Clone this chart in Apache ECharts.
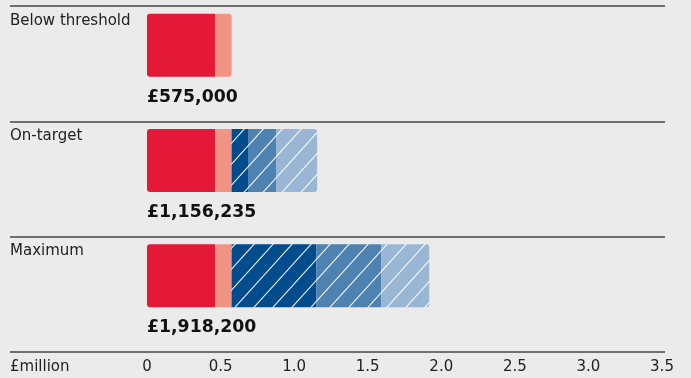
<!DOCTYPE html>
<html>
<head>
<meta charset="utf-8">
<style>
  html, body { margin: 0; padding: 0; background: #ebebeb; }
  #chart { width: 691px; height: 378px; }
</style>
<script src="https://cdn.jsdelivr.net/npm/echarts@6/dist/echarts.min.js"></script>
</head>
<body>
<div id="chart"></div>
<script>
// Remuneration scenarios, £ million
const categories = ['Below threshold', 'On-target', 'Maximum'];
const fixedPay    = [0.463, 0.463, 0.463];
const benefits    = [0.112, 0.112, 0.112];
const annualBonus = [0, 0.1115, 0.576];
const deferred    = [0, 0.1905, 0.440];
const ltip        = [0, 0.279235, 0.3272];
const totals      = [0.575, 1.156235, 1.9182];
const tickValues  = [0, 0.5, 1.0, 1.5, 2.0, 2.5, 3.0, 3.5];
const axisUnit    = '£million';

const FONT = '"DejaVu Sans", sans-serif';

// Diagonal white hatching over a base colour
function hatch(base) {
  const w = 19, h = 21;
  const c = document.createElement('canvas');
  c.width = w; c.height = h;
  const ctx = c.getContext('2d');
  ctx.fillStyle = base;
  ctx.fillRect(0, 0, w, h);
  ctx.strokeStyle = 'rgba(255,255,255,0.95)';
  ctx.lineWidth = 1.1;
  ctx.beginPath();
  for (let k = -1; k <= 1; k++) {
    ctx.moveTo(k * w - w, 2 * h);
    ctx.lineTo(k * w + 2 * w, -h);
  }
  ctx.stroke();
  return { image: c, repeat: 'repeat' };
}

const segments = [
  { name: 'Fixed pay', data: fixedPay, color: '#e31937' },
  { name: 'Benefits', data: benefits, color: '#f19385' },
  { name: 'Annual bonus', data: annualBonus, color: hatch('#004c8c') },
  { name: 'Deferred bonus', data: deferred, color: hatch('#4e82b1') },
  { name: 'LTIP', data: ltip, color: hatch('#99b6d4') }
];

// last non-zero segment per row gets the rounded right end
function lastIndex(row) {
  let last = 0;
  segments.forEach((s, i) => { if (s.data[row] > 0) last = i; });
  return last;
}

function money(v) {
  const n = String(Math.round(v * 1e6));
  return '£' + n.replace(/\B(?=(\d{3})+(?!\d))/g, ',');
}

const R = 3;
const barSeries = segments.map((s, i) => ({
  name: s.name,
  type: 'bar',
  stack: 'pay',
  xAxisIndex: 1,
  yAxisIndex: 1,
  barWidth: 63,
  barGap: '0%',
  silent: true,
  data: s.data.map((v, row) => {
    const left = i === 0 ? R : 0;
    const right = i === lastIndex(row) ? R : 0;
    return {
      value: v,
      itemStyle: { color: s.color, borderRadius: [left, right, right, left] }
    };
  })
}));

const totalSeries = {
  name: 'Total',
  type: 'bar',
  stack: 'total',
  xAxisIndex: 1,
  yAxisIndex: 1,
  barWidth: 37,
  barGap: '0%',
  silent: true,
  itemStyle: { color: 'rgba(0,0,0,0)' },
  label: {
    show: true,
    position: 'insideLeft',
    distance: 0,
    offset: [0, 2],
    color: '#111',
    fontFamily: FONT,
    fontWeight: 'bold',
    fontSize: 17.3,
    formatter: p => money(p.value)
  },
  data: totals
};

const chart = echarts.init(document.getElementById('chart'), null, { renderer: 'canvas' });
chart.setOption({
  backgroundColor: '#ebebeb',
  animation: false,
  textStyle: { fontFamily: FONT },
  grid: [
    { left: 10, right: 26, top: 6, bottom: 26, containLabel: false, outerBoundsMode: 'none' },
    { left: 147, right: 29, top: 6, bottom: 26, containLabel: false, outerBoundsMode: 'none' }
  ],
  xAxis: [
    {
      gridIndex: 0, type: 'value', min: 0, max: 1,
      axisLine: { show: false }, axisTick: { show: false },
      axisLabel: { show: false }, splitLine: { show: false }
    },
    {
      gridIndex: 1, type: 'value', min: 0, max: 3.5, interval: 0.5,
      axisLine: { show: false }, axisTick: { show: false },
      splitLine: { show: false },
      axisLabel: {
        margin: 8, color: '#222', fontSize: 15, fontFamily: FONT,
        customValues: tickValues,
        formatter: v => (v === 0 ? '0' : v.toFixed(1))
      },
      name: axisUnit,
      nameLocation: 'start',
      nameGap: 137,
      nameTextStyle: {
        align: 'left', verticalAlign: 'top', padding: [8, 0, 0, 0],
        color: '#222', fontSize: 15, fontFamily: FONT
      }
    }
  ],
  yAxis: [
    {
      gridIndex: 0, type: 'category', inverse: true, data: categories,
      axisLine: { show: false }, axisTick: { show: false },
      splitLine: { show: true, lineStyle: { color: '#444', width: 1.5 } },
      axisLabel: {
        inside: true, margin: 0, verticalAlign: 'middle',
        formatter: v => '{t|' + v + '}\n{s|}',
        rich: {
          t: { color: '#222', fontSize: 15, fontFamily: FONT, height: 18 },
          s: { height: 86 }
        }
      }
    },
    {
      gridIndex: 1, type: 'category', inverse: true, data: categories,
      show: false
    }
  ],
  series: [...barSeries, totalSeries]
});
</script>
</body>
</html>
